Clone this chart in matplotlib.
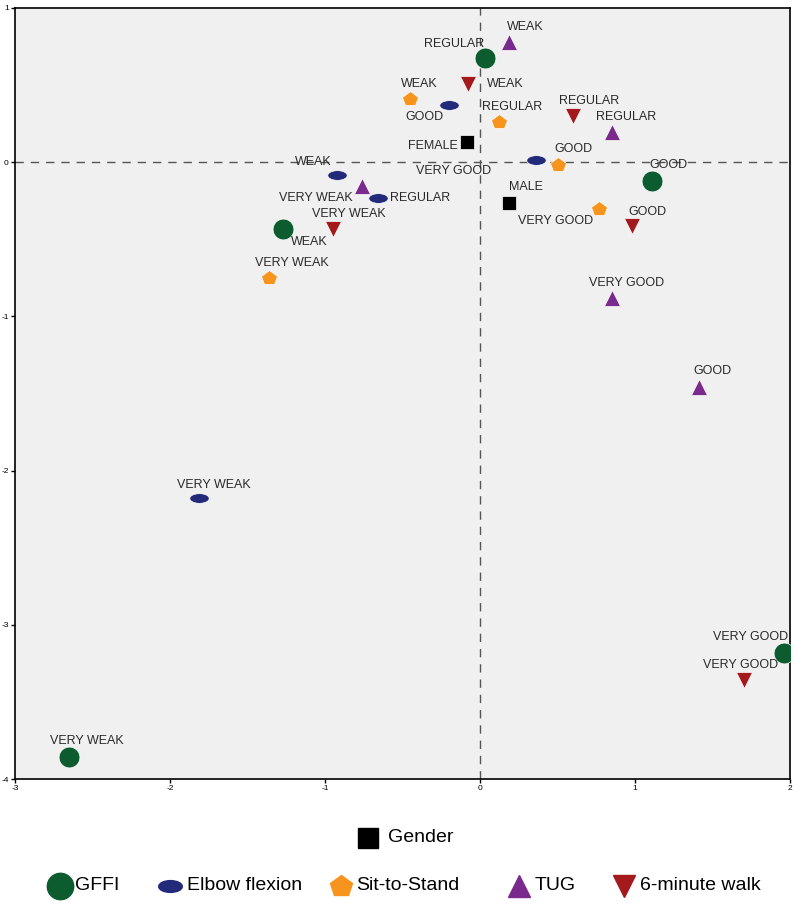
import numpy as np
import matplotlib.pyplot as plt
from matplotlib.path import Path
from matplotlib.transforms import Affine2D

plt.rcParams['font.family'] = ['Liberation Sans', 'DejaVu Sans']
plt.rcParams['axes.unicode_minus'] = False

# category points (dimension 1, dimension 2)
gffi_lab = ["REGULAR", "GOOD", "WEAK", "VERY GOOD", "VERY WEAK"]
gffi_x = [0.03, 1.11, -1.27, 1.96, -2.65]
gffi_y = [0.675, -0.12, -0.435, -3.18, -3.86]

elbow_lab = ["GOOD", "VERY GOOD", "WEAK", "REGULAR", "VERY WEAK"]
elbow_x = [-0.20, 0.36, -0.92, -0.66, -1.81]
elbow_y = [0.37, 0.013, -0.084, -0.23, -2.18]

sit_lab = ["WEAK", "REGULAR", "GOOD", "VERY GOOD", "VERY WEAK"]
sit_x = [-0.45, 0.12, 0.50, 0.77, -1.36]
sit_y = [0.41, 0.26, -0.02, -0.305, -0.75]

tug_lab = ["WEAK", "REGULAR", "VERY WEAK", "VERY GOOD", "GOOD"]
tug_x = [0.19, 0.85, -0.76, 0.85, 1.41]
tug_y = [0.78, 0.195, -0.156, -0.88, -1.455]

walk_lab = ["WEAK", "REGULAR", "VERY WEAK", "GOOD", "VERY GOOD"]
walk_x = [-0.08, 0.60, -0.95, 0.98, 1.70]
walk_y = [0.51, 0.30, -0.435, -0.415, -3.36]

gender_lab = ["FEMALE", "MALE"]
gender_x = [-0.084, 0.19]
gender_y = [0.13, -0.266]

legend_names = ['GFFI', 'Elbow flexion', 'Sit-to-Stand', 'TUG', '6-minute walk']

# label offsets in pixels (dx, dy up)
gffi_off = [(-31, 14), (16, 16), (26, -13), (-33, 16), (18, 16)]
elbow_off = [(-25, -12), (-82, -11), (-24, 13), (42, 0), (14, 13)]
sit_off = [(9, 15), (14, 15), (16, 16), (-44, -12), (23, 15)]
tug_off = [(16, 15), (14, 15), (-46, -12), (15, 15), (14, 16)]
walk_off = [(38, 0), (16, 15), (16, 15), (16, 14), (-3, 15)]
gender_off = [(-34, -4), (16, 16)]

ell = Path.unit_circle().transformed(Affine2D().scale(1, 0.5))
ell_marker = Path(ell.vertices, ell.codes)

fig = plt.figure(figsize=(8, 9.11), dpi=100)
ax = fig.add_axes([15/800, 1-779/911, 775/800, 771/911])
ax.set_facecolor('#f0f0f0')

ax.axvline(0, color='#555555', ls=(0, (6, 5)), lw=1, zorder=1)
ax.axhline(0, color='#555555', ls=(0, (6, 5)), lw=1, zorder=1)

series = [
    (gffi_x, gffi_y, gffi_lab, gffi_off, 'o', '#0d5c2f', 15),
    (elbow_x, elbow_y, elbow_lab, elbow_off, ell_marker, '#232a7a', 14),
    (sit_x, sit_y, sit_lab, sit_off, 'p', '#f7941d', 11.5),
    (tug_x, tug_y, tug_lab, tug_off, '^', '#7a2a8c', 11.5),
    (walk_x, walk_y, walk_lab, walk_off, 'v', '#a3191c', 11.5),
    (gender_x, gender_y, gender_lab, gender_off, 's', '#000000', 10.5),
]
for xs, ys, labs, offs, mk, col, ms in series:
    ax.plot(xs, ys, ls='none', marker=mk, color=col, markersize=ms,
            markeredgecolor='white', markeredgewidth=0.5, zorder=3)
    for x, y, lab, (dx, dy) in zip(xs, ys, labs, offs):
        ax.annotate(lab, (x, y), xytext=(dx, dy), textcoords='offset pixels',
                    ha='center', va='center', fontsize=9, color='#2a2a2a', zorder=4)

ax.set_xlim(-3, 2)
ax.set_ylim(-4, 1)
ax.set_xticks([-3, -2, -1, 0, 1, 2])
ax.set_yticks([-4, -3, -2, -1, 0, 1])
ax.tick_params(labelsize=6, length=3, width=1, pad=1.5)
for s in ax.spines.values():
    s.set_linewidth(1.2)

# legend drawn on a transparent overlay in figure pixels
lg = fig.add_axes([0, 0, 1, 1])
lg.set_xlim(0, 800)
lg.set_ylim(911, 0)
lg.axis('off')
lg.patch.set_alpha(0)

lg.plot([368], [838], ls='none', marker='s', color='black', markersize=15)
lg.text(388, 838, 'Gender', fontsize=14, va='center', ha='left')

leg_mk = ['o', ell_marker, 'p', '^', 'v']
leg_col = ['#0d5c2f', '#232a7a', '#f7941d', '#7a2a8c', '#a3191c']
leg_ms = [19, 17, 16, 16, 16]
leg_mx = [60, 170, 341, 519, 624]
leg_tx = [75, 187, 356, 535, 640]
for name, mk, col, ms, mx, tx in zip(legend_names, leg_mk, leg_col, leg_ms, leg_mx, leg_tx):
    lg.plot([mx], [886], ls='none', marker=mk, color=col, markersize=ms)
    lg.text(tx, 885, name, fontsize=14, va='center', ha='left')

fig.savefig('out.png', dpi=100)
